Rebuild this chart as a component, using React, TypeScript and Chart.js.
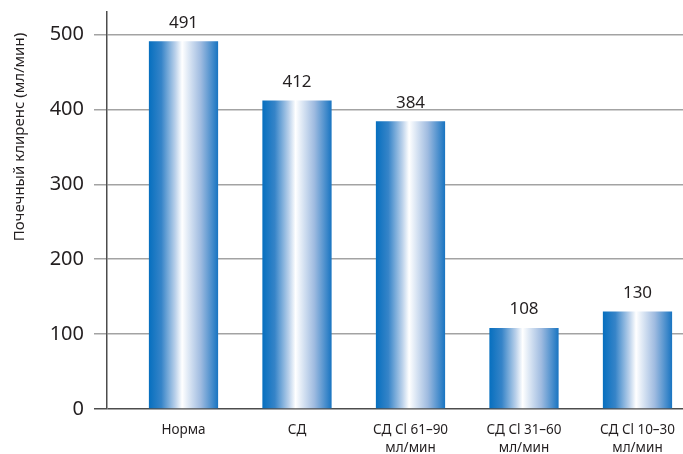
import React, { useEffect, useRef } from "react";
import { Chart, registerables } from "chart.js";

Chart.register(...registerables);

// Почечный клиренс по группам
const categories: string[][] = [
  ["Норма"],
  ["СД"],
  ["СД Cl 61–90", "мл/мин"],
  ["СД Cl 31–60", "мл/мин"],
  ["СД Cl 10–30", "мл/мин"],
];
const clearance: number[] = [491, 412, 384, 108, 130];
const yTicks: number[] = [0, 100, 200, 300, 400, 500];
const yTitle = "Почечный клиренс (мл/мин)";

const FONT = "'Noto Sans', 'DejaVu Sans', sans-serif";
const TEXT = "#231f20";
const BAR_PCT = 0.61;

const valueLabels = {
  id: "valueLabels",
  afterDatasetsDraw(chart: any) {
    const ctx = chart.ctx;
    const meta = chart.getDatasetMeta(0);
    ctx.save();
    ctx.font = `17px ${FONT}`;
    ctx.fillStyle = TEXT;
    ctx.textAlign = "center";
    ctx.textBaseline = "bottom";
    meta.data.forEach((bar: any, i: number) => {
      ctx.fillText(String(clearance[i]), bar.x, bar.y - 10);
    });
    ctx.restore();
  },
};

const sideTitle = {
  id: "sideTitle",
  afterDraw(chart: any) {
    const ctx = chart.ctx;
    ctx.save();
    ctx.font = `15px ${FONT}`;
    ctx.fillStyle = TEXT;
    ctx.textAlign = "center";
    ctx.textBaseline = "middle";
    ctx.translate(20, 137);
    ctx.rotate(-Math.PI / 2);
    ctx.fillText(yTitle, 0, 0);
    ctx.restore();
  },
};

function barGradient(c: any) {
  const chart = c.chart;
  const xs = chart.scales?.x;
  if (!xs || c.type !== "data") return "#1a75c0";
  const center = xs.getPixelForValue(c.dataIndex);
  const w = (xs.getPixelForValue(1) - xs.getPixelForValue(0)) * BAR_PCT;
  if (!Number.isFinite(center) || !Number.isFinite(w) || w <= 0) return "#1a75c0";
  const g = chart.ctx.createLinearGradient(center - w / 2, 0, center + w / 2, 0);
  g.addColorStop(0, "#066fbf");
  g.addColorStop(0.18, "#3684c8");
  g.addColorStop(0.38, "#b9d0ea");
  g.addColorStop(0.48, "#ffffff");
  g.addColorStop(0.56, "#e2ebf6");
  g.addColorStop(0.75, "#9fbbe0");
  g.addColorStop(1, "#1874c1");
  return g;
}

export default function App() {
  const ref = useRef<HTMLCanvasElement | null>(null);

  useEffect(() => {
    if (!ref.current) return;
    const chart = new Chart(ref.current, {
      type: "bar",
      data: {
        datasets: [
          {
            data: clearance.map((v, i) => ({ x: i, y: v })),
            backgroundColor: barGradient,
            borderWidth: 0,
            barPercentage: BAR_PCT,
            categoryPercentage: 1,
          },
        ],
      },
      options: {
        responsive: false,
        animation: false,
        layout: { padding: { top: 12, right: 0, bottom: 0, left: 0 } },
        plugins: { legend: { display: false }, tooltip: { enabled: false } },
        scales: {
          x: {
            type: "linear",
            offset: false,
            bounds: "ticks",
            min: -0.674,
            max: 4.401,
            grid: { display: false, drawTicks: false, offset: false },
            border: { display: false },
            afterBuildTicks: (s: any) => {
              s.ticks = categories.map((_, i) => ({ value: i }));
            },
            afterFit: (s: any) => {
              s.height = 45;
              s.paddingLeft = 0;
              s.paddingRight = 0;
            },
            ticks: {
              autoSkip: false,
              maxRotation: 0,
              padding: 12,
              color: TEXT,
              font: { family: FONT, size: 13.5, lineHeight: 1.35 },
              callback: (v: any) => categories[v as number],
            },
          },
          y: {
            min: 0,
            max: 530,
            afterBuildTicks: (s: any) => {
              s.ticks = yTicks.map((v) => ({ value: v }));
            },
            afterFit: (s: any) => {
              s.width = 107;
              s.paddingTop = 0;
              s.paddingBottom = 0;
            },
            grid: {
              color: (c: any) => (c.tick && c.tick.value === 0 ? "#4d4d4d" : "#a3a3a3"),
              lineWidth: 1.5,
              tickLength: 13,
            },
            border: { display: true, color: "#4d4d4d", width: 1.5 },
            ticks: {
              padding: 10,
              color: TEXT,
              font: { family: FONT, size: 20 },
            },
          },
        },
      },
      plugins: [valueLabels, sideTitle],
    });
    return () => chart.destroy();
  }, []);

  return (
    <div style={{ position: "fixed", left: 0, top: 0, width: 683, height: 454, background: "#fff" }}>
      <canvas ref={ref} width={683} height={454} />
    </div>
  );
}
